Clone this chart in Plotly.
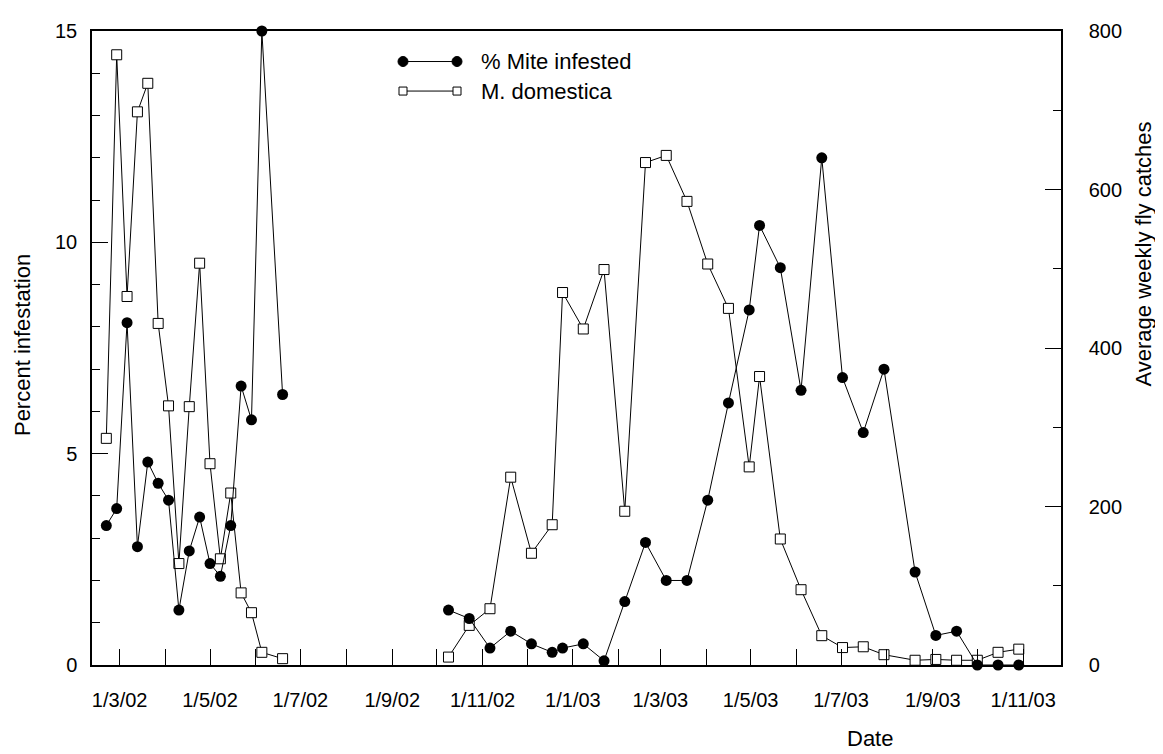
import plotly.graph_objects as go

# ---------------- data ----------------
season1_dates = ["2002-02-20", "2002-02-27", "2002-03-06", "2002-03-13", "2002-03-20",
                 "2002-03-27", "2002-04-03", "2002-04-10", "2002-04-17", "2002-04-24",
                 "2002-05-01", "2002-05-08", "2002-05-15", "2002-05-22", "2002-05-29",
                 "2002-06-05", "2002-06-19"]
season1_mite = [3.3, 3.7, 8.1, 2.8, 4.8, 4.3, 3.9, 1.3, 2.7, 3.5, 2.4, 2.1, 3.3, 6.6, 5.8, 15.0, 6.4]
season1_fly = [286, 770, 465, 698, 734, 431, 327, 128, 326, 507, 254, 134, 217, 91, 66, 16, 8]

season2_dates = ["2002-10-09", "2002-10-23", "2002-11-06", "2002-11-20", "2002-12-04",
                 "2002-12-18", "2002-12-25", "2003-01-08", "2003-01-22", "2003-02-05",
                 "2003-02-19", "2003-03-05", "2003-03-19", "2003-04-02", "2003-04-16",
                 "2003-04-30", "2003-05-07", "2003-05-21", "2003-06-04", "2003-06-18",
                 "2003-07-02", "2003-07-16", "2003-07-30", "2003-08-20", "2003-09-03",
                 "2003-09-17", "2003-10-01", "2003-10-15", "2003-10-29"]
season2_mite = [1.3, 1.1, 0.4, 0.8, 0.5, 0.3, 0.4, 0.5, 0.1, 1.5, 2.9, 2.0, 2.0, 3.9, 6.2,
                8.4, 10.4, 9.4, 6.5, 12.0, 6.8, 5.5, 7.0, 2.2, 0.7, 0.8, 0.0, 0.0, 0.0]
season2_fly = [10, 50, 71, 237, 141, 177, 470, 424, 499, 194, 634, 643, 585, 506, 450,
               250, 364, 159, 95, 37, 22, 23, 13, 6, 7, 6, 6, 16, 20]

series_names = ["% Mite infested", "M. domestica"]
x_title = "Date"
y_left_title = "Percent infestation"
y_right_title = "Average weekly fly catches"

# ---------------- layout geometry ----------------
# the page body has an 8px margin, so the figure is made 8px smaller and
# page coordinates are shifted by that offset
OFF = 8
W, H = 1163 - OFF, 754 - OFF
PLOT_L, PLOT_R, PLOT_T, PLOT_B = 92, 1061, 21, 665          # page pixels
ML, MR = PLOT_L - OFF, W - (PLOT_R - OFF)
MT, MB = PLOT_T - OFF, H - (PLOT_B - OFF)
PW, PH = W - ML - MR, H - MT - MB
FONT = "Liberation Sans, Arial, Helvetica, sans-serif"


def px(x):
    return (x - OFF - ML) / PW


def py(y):
    return (H - MB - (y - OFF)) / PH


fig = go.Figure()

# fly catches (squares) on the right-hand axis (drawn underneath)
for d, v in [(season1_dates, season1_fly), (season2_dates, season2_fly)]:
    fig.add_trace(go.Scatter(
        x=d, y=v, yaxis="y", mode="lines+markers", name=series_names[1],
        line=dict(color="black", width=1),
        marker=dict(symbol="square", size=10, color="white",
                    line=dict(color="black", width=1)),
        cliponaxis=False, showlegend=False))

# mite infestation (filled circles) on the left-hand axis (drawn on top)
for d, v in [(season1_dates, season1_mite), (season2_dates, season2_mite)]:
    fig.add_trace(go.Scatter(
        x=d, y=v, yaxis="y2", mode="lines+markers", name=series_names[0],
        line=dict(color="black", width=1),
        marker=dict(symbol="circle", size=11, color="black"),
        cliponaxis=False, showlegend=False))

tickfont = dict(family=FONT, size=20, color="black")

fig.update_layout(
    width=W, height=H,
    margin=dict(l=ML, r=MR, t=MT, b=MB),
    paper_bgcolor="white", plot_bgcolor="white",
    font=dict(family=FONT, color="black"),
    showlegend=False,
    xaxis=dict(
        type="date",
        range=["2002-02-10 08:00", "2003-11-26 12:00"],
        tick0="2002-03-01", dtick="M2", tickformat="%-d/%-m/%y",
        ticks="inside", ticklen=16, tickwidth=1, tickcolor="black",
        showline=True, linecolor="black", linewidth=1.5, mirror=True,
        showgrid=False, zeroline=False,
        tickfont=tickfont, ticklabelstandoff=16,
        minor=dict(tick0="2002-03-01", dtick="M1", ticks="inside", ticklen=16,
                   tickwidth=1, tickcolor="black", showgrid=False),
    ),
    yaxis=dict(
        range=[0, 800], side="right", tick0=0, dtick=200,
        ticks="inside", ticklen=16, tickwidth=1, tickcolor="black",
        showline=True, linecolor="black", linewidth=1.5,
        showgrid=False, zeroline=False,
        tickfont=tickfont, ticklabelstandoff=22,
        minor=dict(dtick=100, ticks="inside", ticklen=8, tickwidth=1,
                   tickcolor="black", showgrid=False),
    ),
    yaxis2=dict(
        range=[0, 15], side="left", overlaying="y", tick0=0, dtick=5,
        ticks="inside", ticklen=16, tickwidth=1, tickcolor="black",
        showline=True, linecolor="black", linewidth=1.5,
        showgrid=False, zeroline=False,
        tickfont=tickfont, ticklabelstandoff=9,
        minor=dict(dtick=1, ticks="inside", ticklen=8, tickwidth=1,
                   tickcolor="black", showgrid=False),
    ),
)

# axis titles as annotations (positions in page pixels)
title_font = dict(family=FONT, size=22, color="black")
fig.add_annotation(text=y_left_title, xref="paper", yref="paper",
                   x=px(22), y=py(340), textangle=-90, showarrow=False,
                   font=title_font, xanchor="center", yanchor="middle")
fig.add_annotation(text=y_right_title, xref="paper", yref="paper",
                   x=px(1143), y=py(248), textangle=-90, showarrow=False,
                   font=title_font, xanchor="center", yanchor="middle")
fig.add_annotation(text=x_title, xref="paper", yref="paper",
                   x=px(870), y=py(740), showarrow=False,
                   font=title_font, xanchor="center", yanchor="middle")

# custom legend (line with a marker at each end)
legend_rows = [(52, "circle", "black", 10), (82, "square", "white", 8)]
for (ly, sym, fill, sz), label in zip(legend_rows, series_names):
    fig.add_shape(type="line", xref="paper", yref="paper",
                  x0=px(403), x1=px(457), y0=py(ly), y1=py(ly),
                  line=dict(color="black", width=1))
    for lx in (403, 457):
        fig.add_shape(type="circle" if sym == "circle" else "rect",
                      xref="paper", yref="paper",
                      xsizemode="pixel", ysizemode="pixel",
                      xanchor=px(lx), yanchor=py(ly),
                      x0=-sz / 2, x1=sz / 2, y0=-sz / 2, y1=sz / 2,
                      fillcolor=fill, line=dict(color="black", width=1))
    fig.add_annotation(text=label, xref="paper", yref="paper",
                       x=px(479), y=py(ly), showarrow=False,
                       font=title_font, xanchor="left", yanchor="middle")

fig.write_html("out.html")
